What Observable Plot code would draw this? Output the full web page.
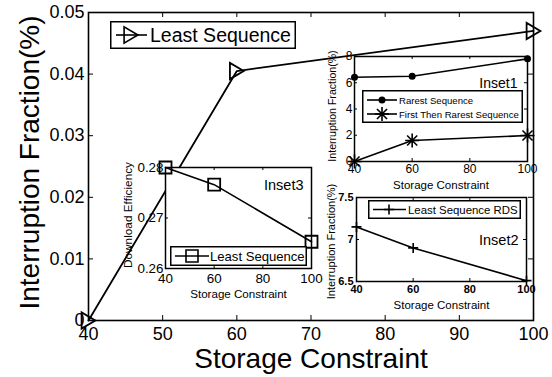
<!DOCTYPE html>
<html><head><meta charset="utf-8">
<script src="https://cdn.jsdelivr.net/npm/d3@7"></script>
<script src="https://cdn.jsdelivr.net/npm/@observablehq/plot@0.6"></script>
<style>
html,body{margin:0;padding:0;background:#fff;}
#root{position:relative;width:552px;height:377px;overflow:hidden;font-family:"Liberation Sans",Arial,Helvetica,sans-serif;}
#root > svg, #root > div{position:absolute;}
</style></head>
<body><div id="root"></div>
<script>
// ---------- data ----------
const mainStorage = [40, 60, 100];
const leastSequence = [0, 0.0405, 0.047];

const inset1Storage = [40, 60, 100];
const rarestSequence = [6.42, 6.5, 7.82];
const firstThenRarest = [0, 1.6, 1.98];

const inset2Storage = [40, 60, 100];
const leastSequenceRDS = [7.15, 6.9, 6.51];

const inset3Storage = [40, 60, 100];
const downloadEfficiency = [0.28, 0.2766, 0.2653];

const mainXTicks = [40, 50, 60, 70, 80, 90, 100];
const mainYTicks = [0, 0.01, 0.02, 0.03, 0.04, 0.05];
const insetXTicks = [40, 60, 80, 100];
const inset1YTicks = [0, 2, 4, 6, 8];
const inset2YTicks = [6.5, 7, 7.5];
const inset3YTicks = [0.26, 0.27, 0.28];

// ---------- symbols (MATLAB-like markers) ----------
const triRight = {draw(c, size) { const r = Math.sqrt(size / Math.PI); c.moveTo(1.15 * r, 0); c.lineTo(-1.15 * r, -1.35 * r); c.lineTo(-1.15 * r, 1.35 * r); c.closePath(); }};
const squareSym = {draw(c, size) { const r = Math.sqrt(size / Math.PI); c.rect(-r, -r, 2 * r, 2 * r); }};
const plusSym = {draw(c, size) { const r = Math.sqrt(size / Math.PI); c.moveTo(-r, 0); c.lineTo(r, 0); c.moveTo(0, -r); c.lineTo(0, r); }};
const starSym = {draw(c, size) { const r = Math.sqrt(size / Math.PI), d = r * 0.72; c.moveTo(-r, 0); c.lineTo(r, 0); c.moveTo(0, -r); c.lineTo(0, r); c.moveTo(-d, -d); c.lineTo(d, d); c.moveTo(-d, d); c.lineTo(d, -d); }};

const FONT = '"Liberation Sans",Arial,Helvetica,sans-serif';
const root = document.getElementById("root");

function rows(xs, ys) { return xs.map((x, i) => ({x, y: ys[i]})); }

// common axes: inward ticks on all four sides, tick labels, frame
function axes(o) {
  const fw = o.width - o.ml - o.mr, fh = o.height - o.mt - o.mb;
  const tk = {stroke: "black", strokeWidth: 1};
  return [
    Plot.ruleX(o.xTicks, {x: d => d, insetTop: fh - o.tick, ...tk}),
    Plot.ruleX(o.xTicks, {x: d => d, insetBottom: fh - o.tick, ...tk}),
    Plot.ruleY(o.yTicks, {y: d => d, insetRight: fw - o.tick, ...tk}),
    Plot.ruleY(o.yTicks, {y: d => d, insetLeft: fw - o.tick, ...tk}),
    Plot.axisX(o.xTicks, {tickSize: 0, tickPadding: o.xPad, fontSize: o.xfs, fontWeight: o.weight || "normal", label: null, tickFormat: o.xFormat || (d => String(d)), fill: "black"}),
    Plot.axisY(o.yTicks, {tickSize: 0, tickPadding: o.yPad, fontSize: o.yfs, fontWeight: o.weight || "normal", label: null, tickFormat: o.yFormat || (d => String(d)), fill: "black"}),
    Plot.text([o.xTitle], {text: d => d, frameAnchor: "bottom", lineAnchor: "bottom", textAnchor: "middle", dy: o.xTitleDy, fontSize: o.xTitleFs, fill: "black"}),
    Plot.text([o.yTitle], {text: d => d, frameAnchor: "left", rotate: -90, lineAnchor: "middle", textAnchor: "middle", dx: o.yTitleDx, dy: o.yTitleDy || 0, fontSize: o.yTitleFs, fill: "black"})
  ];
}

function panel(o, marks) {
  const svg = Plot.plot({
    width: o.width, height: o.height,
    marginLeft: o.ml, marginRight: o.mr, marginTop: o.mt, marginBottom: o.mb,
    x: {domain: o.xDomain}, y: {domain: o.yDomain},
    style: `background:transparent;overflow:visible;font-family:${FONT};color:black;`,
    marks: [
      o.bg ? Plot.frame({fill: "white", stroke: "none"}) : null,
      ...axes(o),
      ...marks,
      o.label ? Plot.text([o.label], {text: d => d, frameAnchor: "top-right", textAnchor: "end", lineAnchor: "bottom", dx: o.labelDx, dy: o.labelDy, fontSize: o.labelFs, fill: "black"}) : null,
      Plot.frame({stroke: "black", strokeWidth: o.sw})
    ]
  });
  svg.style.left = o.left + "px";
  svg.style.top = o.top + "px";
  root.appendChild(svg);
}

// ---------- main chart ----------
panel({
  left: 0, top: 0, width: 552, height: 377, ml: 88, mr: 19, mt: 12, mb: 57,
  xDomain: [40, 100], yDomain: [0, 0.05], xTicks: mainXTicks, yTicks: mainYTicks, tick: 5,
  xPad: 7, yPad: 4, xfs: 18, yfs: 18, yFormat: d => d === 0 ? "0" : d.toFixed(2),
  xTitle: "Storage Constraint", xTitleDy: 47, xTitleFs: 28,
  yTitle: "Interruption Fraction(%)", yTitleDx: -58, yTitleDy: -4, yTitleFs: 28, sw: 1.6
}, [
  Plot.line(rows(mainStorage, leastSequence), {x: "x", y: "y", stroke: "black", strokeWidth: 1.8}),
  Plot.dot(rows(mainStorage, leastSequence), {x: "x", y: "y", symbol: triRight, r: 6, stroke: "black", fill: "none", strokeWidth: 1.8})
]);

// ---------- inset 3 ----------
panel({
  left: 100, top: 150, width: 220, height: 155, ml: 65, mr: 9, mt: 17, mb: 37, bg: true,
  xDomain: [40, 100], yDomain: [0.26, 0.28], xTicks: insetXTicks, yTicks: inset3YTicks, tick: 3,
  xPad: 5, yPad: 2, xfs: 13.4, yfs: 13.4, yFormat: d => d.toFixed(2),
  xTitle: "Storage Constraint", xTitleDy: 29, xTitleFs: 11.6,
  yTitle: "Download Efficiency", yTitleDx: -37, yTitleDy: -3, yTitleFs: 11.8, sw: 1.5,
  label: "Inset3", labelDx: -8, labelDy: 22, labelFs: 14.5
}, [
  Plot.line(rows(inset3Storage, downloadEfficiency), {x: "x", y: "y", stroke: "black", strokeWidth: 1.6}),
  Plot.dot(rows(inset3Storage, downloadEfficiency), {x: "x", y: "y", symbol: squareSym, r: 6, stroke: "black", fill: "none", strokeWidth: 1.8})
]);

// ---------- inset 1 ----------
panel({
  left: 300, top: 40, width: 240, height: 155, ml: 54, mr: 13, mt: 16, mb: 34, bg: true,
  xDomain: [40, 100], yDomain: [0, 8], xTicks: insetXTicks, yTicks: inset1YTicks, tick: 3,
  xPad: 3, yPad: 2, xfs: 12, yfs: 12,
  xTitle: "Storage Constraint", xTitleDy: 27, xTitleFs: 11.5,
  yTitle: "Interruption Fraction(%)", yTitleDx: -22, yTitleDy: -3, yTitleFs: 10.6, sw: 1.5,
  label: "Inset1", labelDx: -10, labelDy: 31, labelFs: 14
}, [
  Plot.line(rows(inset1Storage, rarestSequence), {x: "x", y: "y", stroke: "black", strokeWidth: 1.6}),
  Plot.dot(rows(inset1Storage, rarestSequence), {x: "x", y: "y", r: 3.5, fill: "black", stroke: "none"}),
  Plot.line(rows(inset1Storage, firstThenRarest), {x: "x", y: "y", stroke: "black", strokeWidth: 1.6}),
  Plot.dot(rows(inset1Storage, firstThenRarest), {x: "x", y: "y", symbol: starSym, r: 7, stroke: "black", fill: "none", strokeWidth: 1.6})
]);

// ---------- inset 2 ----------
panel({
  left: 300, top: 180, width: 240, height: 135, ml: 56, mr: 14, mt: 17, mb: 34, bg: true,
  xDomain: [40, 100], yDomain: [6.5, 7.5], xTicks: insetXTicks, yTicks: inset2YTicks, tick: 3,
  xPad: 4, yPad: 3, xfs: 11, yfs: 11, weight: "bold",
  xTitle: "Storage Constraint", xTitleDy: 27, xTitleFs: 11.5,
  yTitle: "Interruption Fraction(%)", yTitleDx: -25, yTitleDy: 2, yTitleFs: 11, sw: 1.5,
  label: "Inset2", labelDx: -8, labelDy: 47, labelFs: 14.5
}, [
  Plot.line(rows(inset2Storage, leastSequenceRDS), {x: "x", y: "y", stroke: "black", strokeWidth: 1.6}),
  Plot.dot(rows(inset2Storage, leastSequenceRDS), {x: "x", y: "y", symbol: plusSym, r: 5, stroke: "black", fill: "none", strokeWidth: 1.6})
]);

// ---------- legends (HTML/SVG boxes) ----------
const NS = "http://www.w3.org/2000/svg";
function el(tag, attrs, parent) { const e = document.createElementNS(NS, tag); for (const k in attrs) e.setAttribute(k, attrs[k]); parent.appendChild(e); return e; }
function legend(box, entries) {
  const s = document.createElementNS(NS, "svg");
  s.setAttribute("width", box.w); s.setAttribute("height", box.h);
  s.style.left = box.left + "px"; s.style.top = box.top + "px"; s.style.overflow = "visible";
  el("rect", {x: 0.75, y: 0.75, width: box.w - 1.5, height: box.h - 1.5, fill: "white", stroke: "black", "stroke-width": 1.5}, s);
  for (const e of entries) {
    const cy = e.cy - box.top;
    el("line", {x1: e.x1 - box.left, x2: e.x2 - box.left, y1: cy, y2: cy, stroke: "black", "stroke-width": e.sw || 1.6}, s);
    const path = d3.path();
    e.symbol.draw(path, e.r * e.r * Math.PI);
    el("path", {d: path.toString(), transform: `translate(${e.mx - box.left},${cy})`, fill: e.fill || "none", stroke: e.fill ? "none" : "black", "stroke-width": 1.6}, s);
    const t = el("text", {x: e.tx - box.left, y: cy, "font-size": e.fs, "dominant-baseline": "central", "font-family": FONT, fill: "black"}, s);
    t.textContent = e.text;
  }
  root.appendChild(s);
}
const dotSym = {draw(c, size) { const r = Math.sqrt(size / Math.PI); c.moveTo(r, 0); c.arc(0, 0, r, 0, 2 * Math.PI); }};

legend({left: 110, top: 21, w: 186, h: 28}, [
  {cy: 35, x1: 116, x2: 147, mx: 131, symbol: triRight, r: 6, text: "Least Sequence", tx: 150, fs: 19.5}
]);
legend({left: 362, top: 90, w: 161, h: 33}, [
  {cy: 100, x1: 367, x2: 397, mx: 382, symbol: dotSym, r: 3.5, fill: "black", text: "Rarest Sequence", tx: 399, fs: 9.6},
  {cy: 114, x1: 367, x2: 397, mx: 382, symbol: starSym, r: 7, text: "First Then Rarest Sequence", tx: 399, fs: 9.6}
]);
legend({left: 368, top: 200, w: 153, h: 19}, [
  {cy: 209.5, x1: 373, x2: 406, mx: 389, symbol: plusSym, r: 5, text: "Least Sequence RDS", tx: 408, fs: 11.4}
]);
legend({left: 170, top: 246, w: 137, h: 20}, [
  {cy: 256, x1: 175, x2: 209, mx: 192, symbol: squareSym, r: 6, text: "Least Sequence", tx: 210, fs: 13.1}
]);
</script>
</body></html>
